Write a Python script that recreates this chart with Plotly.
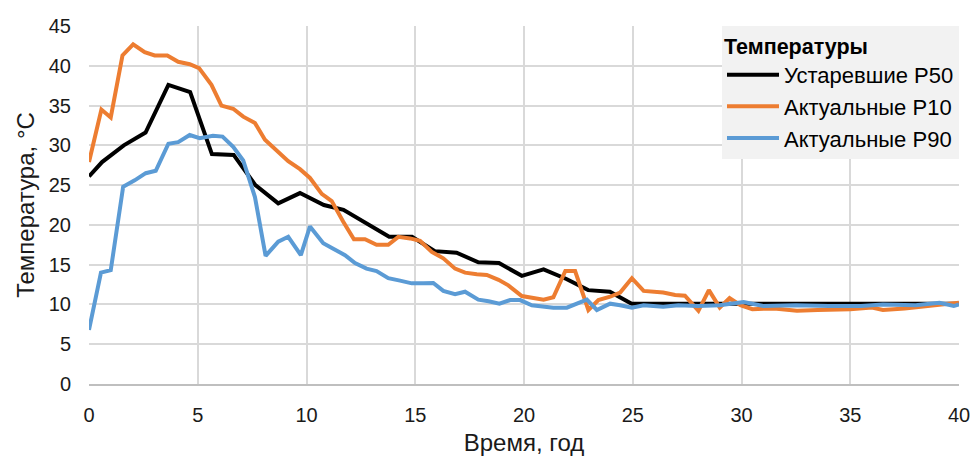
import plotly.graph_objects as go

# Устаревшие P50
black_x = [0, 0.6, 1.6, 2.6, 3.65, 4.65, 5.65, 6.65, 7.65, 8.7, 9.7, 10.8, 11.7, 12.75, 13.8, 14.85,
           15.9, 16.9, 17.9, 18.85, 19.9, 20.9, 21.95, 22.95, 23.95, 24.95, 26, 28, 30, 32, 34, 36, 38, 40]
black_y = [26.1, 27.9, 30.0, 31.6, 37.6, 36.7, 28.9, 28.8, 25.0, 22.7, 24.0, 22.5, 21.9, 20.2, 18.5, 18.5,
           16.7, 16.5, 15.3, 15.2, 13.6, 14.4, 13.2, 11.8, 11.6, 10.1, 10.1, 10.1, 10.1, 10.1, 10.1, 10.1, 10.1, 10.1]

# Актуальные P10
orange_x = [0, 0.57, 1.0, 1.54, 2.03, 2.56, 3.02, 3.6, 4.1, 4.63, 5.06, 5.63, 6.09, 6.63, 7.09, 7.63, 8.09,
            8.62, 9.16, 9.7, 10.16, 10.7, 11.16, 11.69, 12.18, 12.69, 13.22, 13.76, 14.22, 14.76, 15.22,
            15.76, 16.29, 16.83, 17.29, 17.83, 18.29, 18.83, 19.28, 19.9, 20.43, 20.9, 21.35, 21.9, 22.35,
            22.96, 23.42, 23.96, 24.42, 24.96, 25.5, 26.4, 26.95, 27.4, 28.02, 28.5, 29.0, 29.45, 29.95,
            30.5, 31.5, 32.55, 33.5, 35.0, 36.0, 36.5, 37.5, 38.4, 39.2, 40.0]
orange_y = [27.9, 34.5, 33.5, 41.3, 42.7, 41.7, 41.3, 41.3, 40.5, 40.2, 39.7, 37.6, 35.0, 34.6, 33.6, 32.8,
            30.7, 29.4, 28.0, 27.0, 25.9, 23.9, 23.0, 20.4, 18.2, 18.2, 17.5, 17.5, 18.5, 18.3, 18.0, 16.6,
            15.8, 14.5, 14.0, 13.8, 13.7, 13.1, 12.4, 11.05, 10.8, 10.6, 10.9, 14.2, 14.2, 9.3, 10.55, 10.97,
            11.5, 13.3, 11.7, 11.5, 11.2, 11.1, 9.2, 11.8, 9.6, 10.8, 9.9, 9.4, 9.5, 9.2, 9.3, 9.4, 9.6, 9.3,
            9.5, 9.8, 10.0, 10.2]

# Актуальные P90
blue_x = [0, 0.55, 1.0, 1.57, 2.1, 2.61, 3.07, 3.65, 4.1, 4.63, 5.09, 5.7, 6.14, 6.63, 7.09, 7.63, 8.12,
          8.7, 9.16, 9.74, 10.16, 10.77, 11.23, 11.77, 12.23, 12.76, 13.22, 13.76, 14.3, 14.84, 15.37, 15.83,
          16.29, 16.83, 17.29, 17.9, 18.37, 18.87, 19.36, 19.82, 20.36, 20.9, 21.35, 21.97, 22.43, 22.89,
          23.35, 23.96, 24.42, 24.96, 25.5, 26.4, 27.1, 28.0, 29.0, 30.1, 31.0, 32.5, 34.0, 35.5, 36.5,
          38.0, 39.1, 39.76, 40.0]
blue_y = [6.8, 14.0, 14.3, 24.8, 25.6, 26.5, 26.8, 30.2, 30.4, 31.3, 30.9, 31.2, 31.1, 29.8, 28.1, 23.5,
          16.1, 17.9, 18.5, 16.2, 19.8, 17.7, 17.0, 16.2, 15.2, 14.5, 14.2, 13.3, 13.0, 12.65, 12.65, 12.7,
          11.7, 11.3, 11.6, 10.6, 10.4, 10.1, 10.55, 10.55, 9.9, 9.7, 9.6, 9.6, 10.05, 10.6, 9.3, 10.1, 9.9,
          9.6, 9.9, 9.7, 9.9, 9.8, 9.9, 10.3, 9.8, 9.9, 9.8, 9.8, 10.0, 9.9, 10.2, 9.8, 10.0]

series_names = ["Устаревшие P50", "Актуальные P10", "Актуальные P90"]
x_ticks = [0, 5, 10, 15, 20, 25, 30, 35, 40]
y_ticks = [0, 5, 10, 15, 20, 25, 30, 35, 40, 45]

FONT = "Liberation Sans, Arial, sans-serif"

fig = go.Figure()
for name, xs, ys, col in [
    (series_names[0], black_x, black_y, "#000000"),
    (series_names[1], orange_x, orange_y, "#ED7D31"),
    (series_names[2], blue_x, blue_y, "#5B9BD5"),
]:
    fig.add_trace(go.Scatter(x=xs, y=ys, mode="lines", name=name,
                             line=dict(color=col, width=4)))

fig.update_layout(
    width=974, height=456,
    margin=dict(l=89, r=15, t=26, b=72),
    paper_bgcolor="white", plot_bgcolor="white",
    font=dict(family=FONT, size=20, color="#1a1a1a"),
    showlegend=True,
    legend=dict(
        title=dict(text="<b>Температуры</b>", font=dict(size=21.5, color="#000000")),
        font=dict(size=22, color="#000000"),
        bgcolor="#f2f2f2",
        x=1.0, xanchor="right", y=1.0, yanchor="top",
        tracegroupgap=0, itemwidth=52,
    ),
    xaxis=dict(
        range=[0, 40], tickvals=x_ticks, ticktext=[str(v) for v in x_ticks],
        showgrid=True, gridcolor="#d9d9d9", gridwidth=1.5,
        showline=True, linecolor="#bfbfbf", linewidth=2,
        zeroline=False, ticks="", ticklabelstandoff=12,
        tickfont=dict(size=20),
        title=dict(text="Время, год", font=dict(size=24), standoff=9),
        automargin=False,
    ),
    yaxis=dict(
        range=[0, 45], tickvals=y_ticks, ticktext=[str(v) for v in y_ticks],
        showgrid=True, gridcolor="#d9d9d9", gridwidth=1.5,
        showline=False, zeroline=False, ticks="", ticklabelstandoff=17,
        tickfont=dict(size=20),
        title=dict(text="Температура, °C", font=dict(size=24), standoff=7),
        automargin=False,
    ),
)

fig.write_html("out.html")
